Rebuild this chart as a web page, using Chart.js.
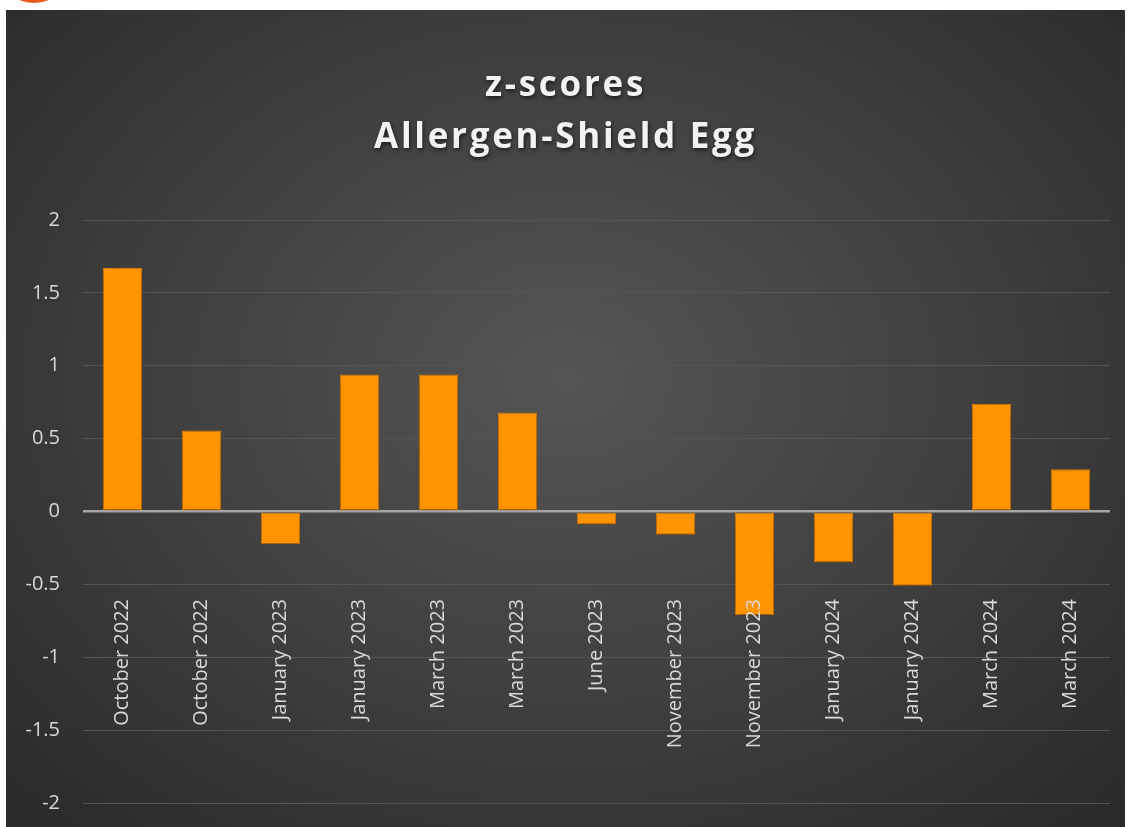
<!DOCTYPE html>
<html>
<head>
<meta charset="utf-8">
<script src="https://cdn.jsdelivr.net/npm/chart.js@4.4.1/dist/chart.umd.min.js"></script>
<style>
  html, body { margin: 0; padding: 0; background: #fff; overflow: hidden; }
  .logo {
    position: absolute; left: 15px; top: -14px; width: 38px; height: 17px;
    border-radius: 50%; background: #f05a22;
  }
  .chart-box {
    position: absolute; left: 6px; top: 10px; width: 1119px; height: 817px; overflow: hidden;
    background: radial-gradient(ellipse 70% 75% at 50% 45%, #555555 0%, #3e3e3e 55%, #2a2a2a 100%);
  }
</style>
</head>
<body>
<div class="logo"></div>
<div class="chart-box"><canvas id="myChart" width="1119" height="828"></canvas></div>
<script>
const categories = [
  'October 2022', 'October 2022', 'January 2023', 'January 2023', 'March 2023',
  'March 2023', 'June 2023', 'November 2023', 'November 2023', 'January 2024',
  'January 2024', 'March 2024', 'March 2024',
];
const zScores = [1.67, 0.555, -0.225, 0.94, 0.94, 0.68, -0.09, -0.16, -0.71, -0.35, -0.51, 0.74, 0.29];
const titleLines = ['z-scores', 'Allergen-Shield Egg'];
const yTicks = [-2, -1.5, -1, -0.5, 0, 0.5, 1, 1.5, 2];

const FONT = "'Open Sans', sans-serif";

// title with letter spacing and a soft shadow
const titlePlugin = {
  id: 'titleText',
  afterDraw(chart) {
    const { ctx } = chart;
    ctx.save();
    ctx.font = `bold 35px ${FONT}`;
    ctx.letterSpacing = '2.7px';
    ctx.fillStyle = '#f2f2f2';
    ctx.textAlign = 'center';
    ctx.textBaseline = 'middle';
    ctx.shadowColor = 'rgba(0,0,0,0.6)';
    ctx.shadowBlur = 4;
    ctx.shadowOffsetX = 1;
    ctx.shadowOffsetY = 2;
    ctx.fillText(titleLines[0], chart.width / 2, 76);
    ctx.fillText(titleLines[1], chart.width / 2, 128);
    ctx.restore();
  },
};

// category labels, rotated, hanging below the -0.5 line
const catLabels = {
  id: 'catLabels',
  afterDatasetsDraw(chart) {
    const { ctx } = chart;
    const x = chart.scales.x;
    const y = chart.scales.y;
    const top = y.getPixelForValue(-0.6);
    ctx.save();
    ctx.font = `20px ${FONT}`;
    ctx.fillStyle = '#d9d9d9';
    ctx.textAlign = 'right';
    ctx.textBaseline = 'middle';
    categories.forEach((c, i) => {
      ctx.save();
      ctx.translate(x.getPixelForValue(i), top);
      ctx.rotate(-Math.PI / 2);
      ctx.fillText(c, 0, 0);
      ctx.restore();
    });
    ctx.restore();
  },
};

// small drop shadow under the bars
const barShadow = {
  id: 'barShadow',
  beforeDatasetsDraw(chart) {
    const { ctx } = chart;
    ctx.save();
    ctx.shadowColor = 'rgba(0,0,0,0.45)';
    ctx.shadowBlur = 8;
    ctx.shadowOffsetY = 3;
  },
  afterDatasetsDraw(chart) {
    chart.ctx.restore();
  },
};

const ctx = document.getElementById('myChart').getContext('2d');
const chart = new Chart(ctx, {
  type: 'bar',
  data: {
    labels: categories,
    datasets: [{
      label: 'z-score',
      data: zScores,
      backgroundColor: '#ff9400',
      borderColor: '#e88600',
      borderWidth: 1,
      borderSkipped: false,
      categoryPercentage: 1,
      barPercentage: 0.5,
    }],
  },
  options: {
    responsive: false,
    animation: false,
    layout: { padding: { top: 210, right: 15, bottom: 12, left: 0 } },
    plugins: {
      legend: { display: false },
      title: { display: false },
      tooltip: { enabled: false },
    },
    scales: {
      x: {
        grid: { display: false },
        border: { display: false },
        ticks: { display: false },
        afterFit(s) { s.height = 0; },
      },
      y: {
        min: -2,
        max: 2,
        afterBuildTicks(s) { s.ticks = yTicks.map((v) => ({ value: v })); },
        afterFit(s) { s.width = 77; },
        border: { display: false },
        grid: {
          drawTicks: false,
          color: (c) => (c.tick && c.tick.value === 0 ? '#a6a6a6' : '#555555'),
          lineWidth: (c) => (c.tick && c.tick.value === 0 ? 2.5 : 1),
        },
        ticks: {
          padding: 23,
          color: '#d9d9d9',
          font: { family: FONT, size: 20 },
          callback: (v) => String(v),
        },
      },
    },
  },
  plugins: [barShadow, catLabels, titlePlugin],
});
</script>
</body>
</html>
